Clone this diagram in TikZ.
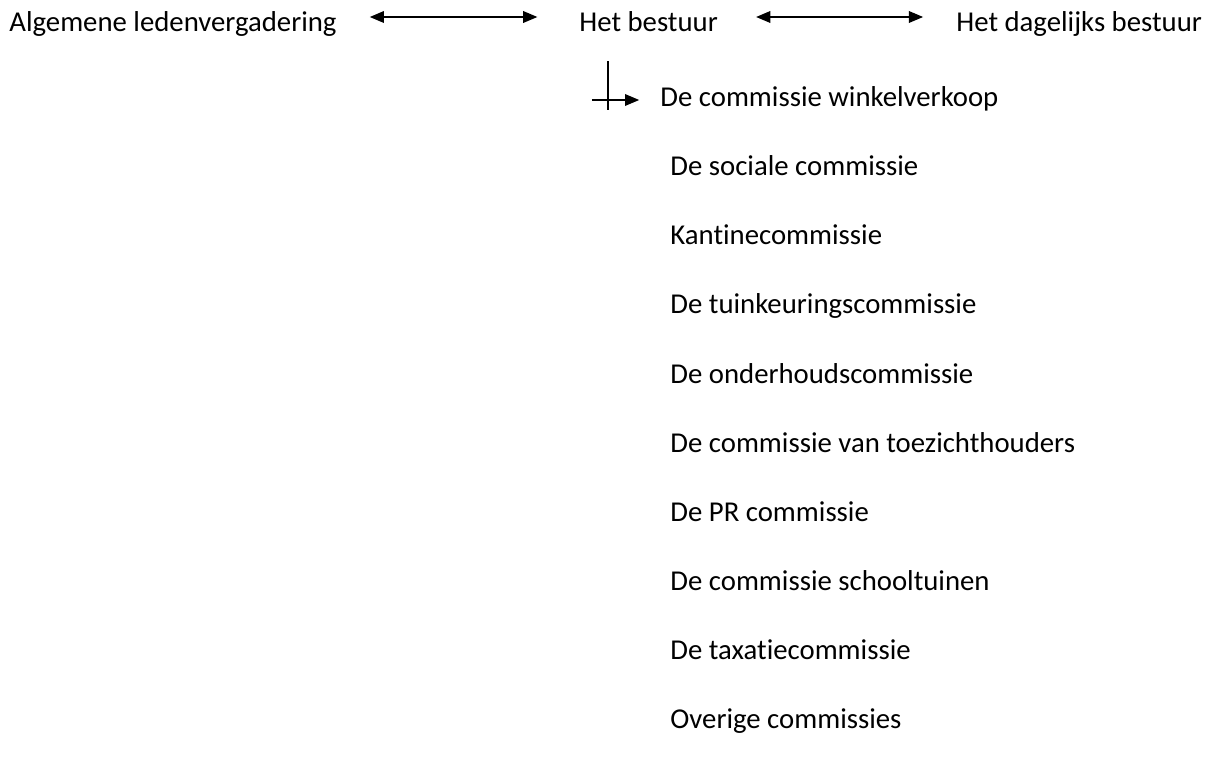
\documentclass[tikz,border=0pt]{standalone}
\usepackage{fontspec}
\setmainfont{Carlito}[Ligatures={NoCommon,NoContextual}]
\usetikzlibrary{arrows.meta}

\tikzset{
  lbl/.style={inner sep=0pt, anchor=base west, font=\fontsize{13.8}{16}\selectfont},
  lijn/.style={line width=0.65pt},
  pijl/.style={lijn, -{Triangle[length=6.8pt,width=5.6pt]}},
  dubbelpijl/.style={lijn, {Triangle[length=6.8pt,width=5.6pt]}-{Triangle[length=6.8pt,width=5.6pt]}}
}

\begin{document}
\begin{tikzpicture}[x=0.48pt,y=-0.48pt]
 \useasboundingbox (0,0) rectangle (1218,761);

 \node[lbl] (alv) at (9,32) {Algemene ledenvergadering};
 \node[lbl] (hb) at (579,32) {Het bestuur};
 \node[lbl] (db) at (956,32) {Het dagelijks bestuur};

 \draw[dubbelpijl, shorten <=15.8pt, shorten >=20pt] ([yshift=7.2pt]alv.base east) -- ([yshift=7.2pt]hb.base west);
 \draw[dubbelpijl, shorten <=18.2pt, shorten >=15.8pt] ([yshift=7.2pt]hb.base east) -- ([yshift=7.2pt]db.base west);

 % commissies
 \node[lbl] (wv) at (660,107) {De commissie winkelverkoop};
 \node[lbl] (soc) at (670,176) {De sociale commissie};
 \node[lbl] (kan) at (670,245) {Kantinecommissie};
 \node[lbl] (tk) at (670,314) {De tuinkeuringscommissie};
 \node[lbl] (oh) at (670,383) {De onderhoudscommissie};
 \node[lbl] (tz) at (670,452) {De commissie van toezichthouders};
 \node[lbl] (pr) at (670,521) {De PR commissie};
 \node[lbl] (st) at (670,590) {De commissie schooltuinen};
 \node[lbl] (tax) at (670,659) {De taxatiecommissie};
 \node[lbl] (ov) at (670,728) {Overige commissies};

 \coordinate (knik) at (608,100);
 \draw[lijn] ([yshift=18.7pt]knik) -- ([yshift=-5pt]knik);
 \draw[pijl, shorten >=10pt] ([xshift=-7.7pt]knik) -- (knik -| wv.west);
\end{tikzpicture}
\end{document}
